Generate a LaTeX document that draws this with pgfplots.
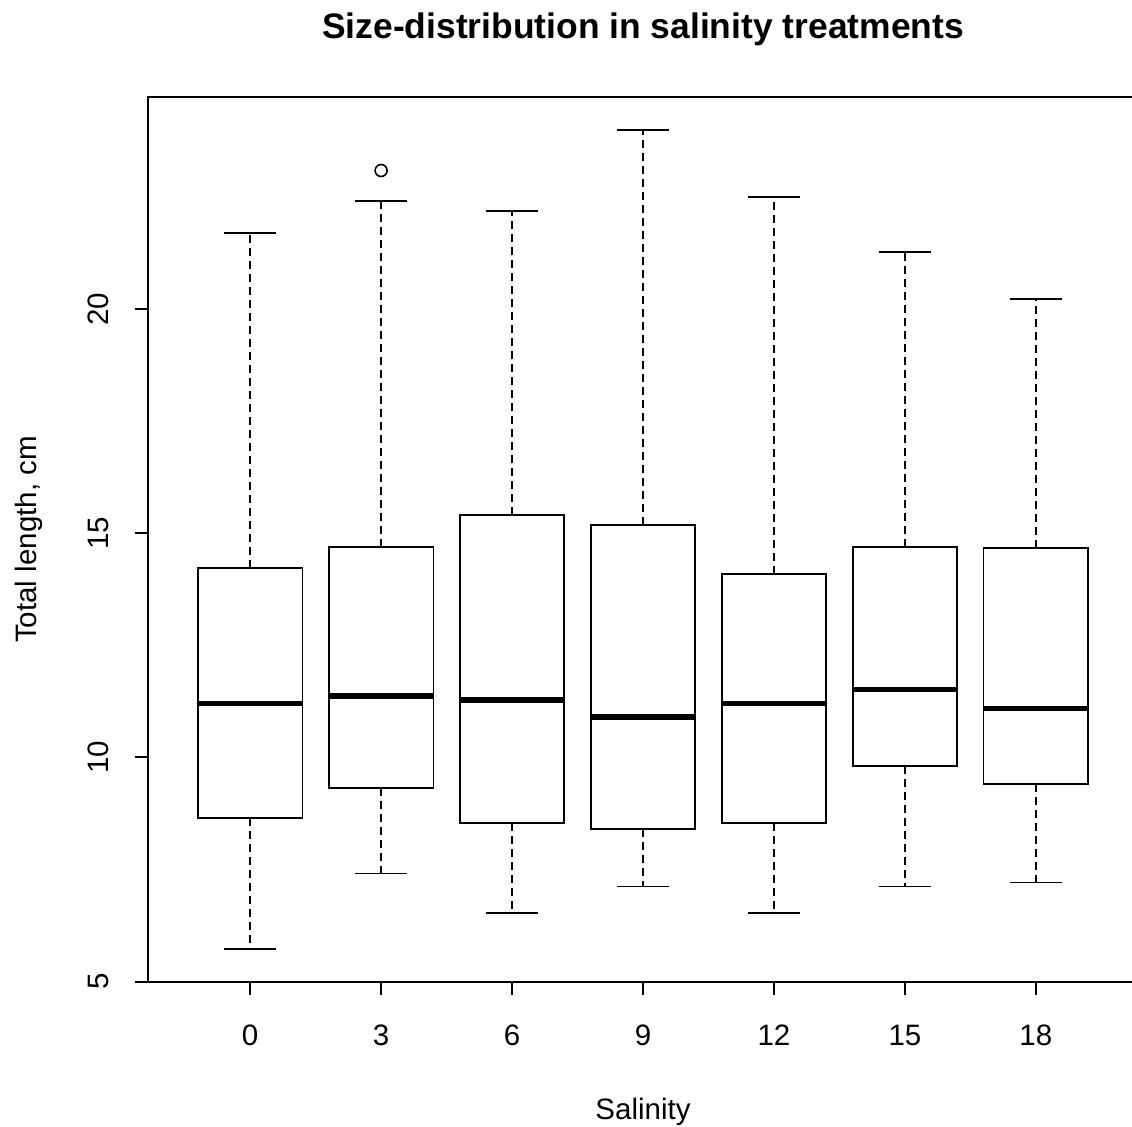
\documentclass[border=0pt]{standalone}
\usepackage{fontspec}
\setmainfont{Liberation Sans}
\usepackage{pgfplots}
\pgfplotsset{compat=1.18}
\usepgfplotslibrary{statistics}
\begin{document}
\begin{tikzpicture}
\useasboundingbox (0,0) rectangle (11.32cm,11.26cm);
\begin{axis}[
  at={(1.48cm,1.44cm)}, anchor=south west,
  scale only axis, width=9.90cm, height=8.85cm,
  xmin=0.22, xmax=7.78, ymin=4.99, ymax=24.73,
  xtick={1,2,3,4,5,6,7}, xticklabels={0,3,6,9,12,15,18},
  ytick={5,10,15,20},
  tick pos=left, tick align=outside, major tick length=0.13cm,
  axis line style={line width=0.55pt},
  every tick/.style={black, line width=0.55pt},
  /pgf/number format/assume math mode=true,
  ticklabel style={font=\fontsize{8.4pt}{10pt}\selectfont},
  xticklabel style={anchor=base, yshift=-0.505cm},
  yticklabel style={xshift=-0.27cm, rotate=90, anchor=base},
  title={Size-distribution in salinity treatments},
  every axis title/.style={at={(axis description cs:0.5,1)}, anchor=base, yshift=0.58cm, font=\fontsize{10.08pt}{12pt}\selectfont\bfseries},
  xlabel={Salinity},
  every axis x label/.style={at={(axis description cs:0.5,0)}, anchor=base, yshift=-1.37cm, font=\fontsize{8.4pt}{10pt}\selectfont},
  ylabel={Total length, cm},
  every axis y label/.style={at={(axis description cs:0,0.5)}, xshift=-1.11cm, rotate=90, anchor=base, font=\fontsize{8.4pt}{10pt}\selectfont},
  boxplot/draw direction=y,
  boxplot/box extend=0.8,
  boxplot/whisker extend=0.4,
  boxplot/every box/.style={draw=black, fill=white, line width=0.55pt},
  boxplot/every median/.style={draw=black, line width=1.45pt},
  boxplot/draw/lower whisker/.code={%
    \draw[black, line width=0.55pt, dash pattern=on 0.08cm off 0.05cm] (boxplot box cs:\pgfplotsboxplotvalue{lower quartile},0.5) -- (boxplot box cs:\pgfplotsboxplotvalue{lower whisker},0.5);
    \draw[black, line width=0.55pt] (boxplot whisker cs:\pgfplotsboxplotvalue{lower whisker},0) -- (boxplot whisker cs:\pgfplotsboxplotvalue{lower whisker},1);
  },
  boxplot/draw/upper whisker/.code={%
    \draw[black, line width=0.55pt, dash pattern=on 0.08cm off 0.05cm] (boxplot box cs:\pgfplotsboxplotvalue{upper quartile},0.5) -- (boxplot box cs:\pgfplotsboxplotvalue{upper whisker},0.5);
    \draw[black, line width=0.55pt] (boxplot whisker cs:\pgfplotsboxplotvalue{upper whisker},0) -- (boxplot whisker cs:\pgfplotsboxplotvalue{upper whisker},1);
  },
]
\addplot[black, boxplot prepared={draw position=1, lower whisker=5.72, lower quartile=8.64, median=11.21, upper quartile=14.23, upper whisker=21.70}] coordinates {};
\addplot[black, mark=o, mark size=0.06cm, mark options={line width=0.45pt}, boxplot prepared={draw position=2, lower whisker=7.41, lower quartile=9.31, median=11.37, upper quartile=14.70, upper whisker=22.42}] table[row sep=\\, y index=0] {23.09\\};
\addplot[black, boxplot prepared={draw position=3, lower whisker=6.52, lower quartile=8.53, median=11.28, upper quartile=15.40, upper whisker=22.19}] coordinates {};
\addplot[black, boxplot prepared={draw position=4, lower whisker=7.12, lower quartile=8.40, median=10.90, upper quartile=15.19, upper whisker=24.00}] coordinates {};
\addplot[black, boxplot prepared={draw position=5, lower whisker=6.52, lower quartile=8.53, median=11.21, upper quartile=14.10, upper whisker=22.50}] coordinates {};
\addplot[black, boxplot prepared={draw position=6, lower whisker=7.12, lower quartile=9.81, median=11.51, upper quartile=14.70, upper whisker=21.28}] coordinates {};
\addplot[black, boxplot prepared={draw position=7, lower whisker=7.21, lower quartile=9.40, median=11.10, upper quartile=14.66, upper whisker=20.22}] coordinates {};
\end{axis}
\end{tikzpicture}
\end{document}
